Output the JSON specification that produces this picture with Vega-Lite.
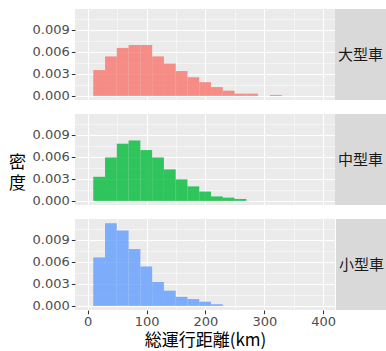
{
  "$schema": "https://vega.github.io/schema/vega-lite/v6.json",
  "background": "white",
  "padding": {"left": 8, "top": 9, "right": 0, "bottom": 0},
  "datasets": {
    "bins": [
      {"type": "大型車", "x0": 9.5, "x1": 29.5, "density": 0.00352},
      {"type": "大型車", "x0": 29.5, "x1": 49.5, "density": 0.00539},
      {"type": "大型車", "x0": 49.5, "x1": 69.5, "density": 0.00655},
      {"type": "大型車", "x0": 69.5, "x1": 89.5, "density": 0.00695},
      {"type": "大型車", "x0": 89.5, "x1": 109.5, "density": 0.00695},
      {"type": "大型車", "x0": 109.5, "x1": 129.5, "density": 0.00539},
      {"type": "大型車", "x0": 129.5, "x1": 149.5, "density": 0.00441},
      {"type": "大型車", "x0": 149.5, "x1": 169.5, "density": 0.00339},
      {"type": "大型車", "x0": 169.5, "x1": 189.5, "density": 0.00254},
      {"type": "大型車", "x0": 189.5, "x1": 209.5, "density": 0.00187},
      {"type": "大型車", "x0": 209.5, "x1": 229.5, "density": 0.0012},
      {"type": "大型車", "x0": 229.5, "x1": 249.5, "density": 0.00071},
      {"type": "大型車", "x0": 249.5, "x1": 269.5, "density": 0.0003},
      {"type": "大型車", "x0": 269.5, "x1": 289.5, "density": 0.0003},
      {"type": "大型車", "x0": 309.5, "x1": 329.5, "density": 0.00013},
      {"type": "中型車", "x0": 9.5, "x1": 29.5, "density": 0.00329},
      {"type": "中型車", "x0": 29.5, "x1": 49.5, "density": 0.00593},
      {"type": "中型車", "x0": 49.5, "x1": 69.5, "density": 0.00781},
      {"type": "中型車", "x0": 69.5, "x1": 89.5, "density": 0.00825},
      {"type": "中型車", "x0": 89.5, "x1": 109.5, "density": 0.00694},
      {"type": "中型車", "x0": 109.5, "x1": 129.5, "density": 0.00593},
      {"type": "中型車", "x0": 129.5, "x1": 149.5, "density": 0.0043},
      {"type": "中型車", "x0": 149.5, "x1": 169.5, "density": 0.00294},
      {"type": "中型車", "x0": 169.5, "x1": 189.5, "density": 0.00198},
      {"type": "中型車", "x0": 189.5, "x1": 209.5, "density": 0.00127},
      {"type": "中型車", "x0": 209.5, "x1": 229.5, "density": 0.00061},
      {"type": "中型車", "x0": 229.5, "x1": 249.5, "density": 0.00044},
      {"type": "中型車", "x0": 249.5, "x1": 269.5, "density": 0.00026},
      {"type": "小型車", "x0": 9.5, "x1": 29.5, "density": 0.00662},
      {"type": "小型車", "x0": 29.5, "x1": 49.5, "density": 0.01129},
      {"type": "小型車", "x0": 49.5, "x1": 69.5, "density": 0.01028},
      {"type": "小型車", "x0": 69.5, "x1": 89.5, "density": 0.00776},
      {"type": "小型車", "x0": 89.5, "x1": 109.5, "density": 0.00538},
      {"type": "小型車", "x0": 109.5, "x1": 129.5, "density": 0.00326},
      {"type": "小型車", "x0": 129.5, "x1": 149.5, "density": 0.00207},
      {"type": "小型車", "x0": 149.5, "x1": 169.5, "density": 0.00123},
      {"type": "小型車", "x0": 169.5, "x1": 189.5, "density": 0.00093},
      {"type": "小型車", "x0": 189.5, "x1": 209.5, "density": 0.00057},
      {"type": "小型車", "x0": 209.5, "x1": 229.5, "density": 0.00022}
    ],
    "strips": [
      {"type": "大型車"},
      {"type": "中型車"},
      {"type": "小型車"}
    ]
  },
  "config": {
    "view": {"fill": "#EBEBEB", "stroke": null},
    "concat": {"spacing": 11},
    "axis": {
      "labelFont": "DejaVu Sans",
      "labelFontSize": 13,
      "labelColor": "#4D4D4D",
      "titleFont": "Noto Sans CJK JP",
      "titleFontSize": 17,
      "titleFontWeight": "normal",
      "titleColor": "#000000",
      "domain": false,
      "tickColor": "#333333",
      "tickSize": 3.7,
      "tickWidth": 1.07,
      "gridColor": "#FFFFFF"
    }
  },
  "vconcat": [
    {
      "spacing": 0,
      "hconcat": [
        {
          "width": 260, "height": 91,
          "data": {"name": "bins"},
          "transform": [{"filter": "datum.type === '大型車'"}],
          "mark": {"type": "rect", "opacity": 0.8},
          "encoding": {
            "x": {"field": "x0", "type": "quantitative", "scale": {"domain": [-21.5, 420], "nice": false, "zero": false},
              "axis": {"title": null, "values": [0, 50, 100, 150, 200, 250, 300, 350, 400], "labels": false, "ticks": false,
                "gridWidth": {"condition": {"test": "datum.value % 100 === 0", "value": 1.07}, "value": 0.53}}},
            "x2": {"field": "x1"},
            "y": {"field": "density", "type": "quantitative", "scale": {"domain": [-0.000565, 0.011865], "nice": false, "zero": false},
              "axis": {"title": null, "values": [0, 0.0015, 0.003, 0.0045, 0.006, 0.0075, 0.009, 0.0105],
                "labelExpr": "round(datum.value * 1000000) % 3000 === 0 ? format(datum.value, '.3f') : ''",
                "tickOpacity": {"condition": {"test": "round(datum.value * 1000000) % 3000 === 0", "value": 1}, "value": 0},
                "gridWidth": {"condition": {"test": "round(datum.value * 1000000) % 3000 === 0", "value": 1.07}, "value": 0.53},
                "labelPadding": 2}},
            "y2": {"datum": 0},
            "color": {"field": "type", "type": "nominal", "legend": null,
              "scale": {"domain": ["大型車", "中型車", "小型車"], "range": ["#F8766D", "#00BA38", "#619CFF"]}}
          }
        },
        {
          "width": 51, "height": 91,
          "view": {"fill": "#D9D9D9", "stroke": null},
          "data": {"name": "strips"},
          "transform": [{"filter": "datum.type === '大型車'"}],
          "mark": {"type": "text", "font": "Noto Sans CJK JP", "fontSize": 15, "color": "#1A1A1A", "baseline": "middle", "align": "center"},
          "encoding": {"text": {"field": "type"}}
        }
      ]
    },
    {
      "spacing": 0,
      "hconcat": [
        {
          "width": 260, "height": 91,
          "data": {"name": "bins"},
          "transform": [{"filter": "datum.type === '中型車'"}],
          "mark": {"type": "rect", "opacity": 0.8},
          "encoding": {
            "x": {"field": "x0", "type": "quantitative", "scale": {"domain": [-21.5, 420], "nice": false, "zero": false},
              "axis": {"title": null, "values": [0, 50, 100, 150, 200, 250, 300, 350, 400], "labels": false, "ticks": false,
                "gridWidth": {"condition": {"test": "datum.value % 100 === 0", "value": 1.07}, "value": 0.53}}},
            "x2": {"field": "x1"},
            "y": {"field": "density", "type": "quantitative", "scale": {"domain": [-0.000565, 0.011865], "nice": false, "zero": false},
              "axis": {"title": ["密", "度"], "titleAngle": 0, "titleAlign": "center", "titleBaseline": "middle", "titleX": -58, "titleY": 48, "titleLineHeight": 21,
                "values": [0, 0.0015, 0.003, 0.0045, 0.006, 0.0075, 0.009, 0.0105],
                "labelExpr": "round(datum.value * 1000000) % 3000 === 0 ? format(datum.value, '.3f') : ''",
                "tickOpacity": {"condition": {"test": "round(datum.value * 1000000) % 3000 === 0", "value": 1}, "value": 0},
                "gridWidth": {"condition": {"test": "round(datum.value * 1000000) % 3000 === 0", "value": 1.07}, "value": 0.53},
                "labelPadding": 2}},
            "y2": {"datum": 0},
            "color": {"field": "type", "type": "nominal", "legend": null,
              "scale": {"domain": ["大型車", "中型車", "小型車"], "range": ["#F8766D", "#00BA38", "#619CFF"]}}
          }
        },
        {
          "width": 51, "height": 91,
          "view": {"fill": "#D9D9D9", "stroke": null},
          "data": {"name": "strips"},
          "transform": [{"filter": "datum.type === '中型車'"}],
          "mark": {"type": "text", "font": "Noto Sans CJK JP", "fontSize": 15, "color": "#1A1A1A", "baseline": "middle", "align": "center"},
          "encoding": {"text": {"field": "type"}}
        }
      ]
    },
    {
      "spacing": 0,
      "hconcat": [
        {
          "width": 260, "height": 91,
          "data": {"name": "bins"},
          "transform": [{"filter": "datum.type === '小型車'"}],
          "mark": {"type": "rect", "opacity": 0.8},
          "encoding": {
            "x": {"field": "x0", "type": "quantitative", "scale": {"domain": [-21.5, 420], "nice": false, "zero": false},
              "axis": {"title": "総運行距離(km)", "values": [0, 50, 100, 150, 200, 250, 300, 350, 400],
                "labelExpr": "datum.value % 100 === 0 ? datum.label : ''",
                "tickOpacity": {"condition": {"test": "datum.value % 100 === 0", "value": 1}, "value": 0},
                "gridWidth": {"condition": {"test": "datum.value % 100 === 0", "value": 1.07}, "value": 0.53},
                "labelPadding": 2, "titlePadding": 4}},
            "x2": {"field": "x1"},
            "y": {"field": "density", "type": "quantitative", "scale": {"domain": [-0.000565, 0.011865], "nice": false, "zero": false},
              "axis": {"title": null, "values": [0, 0.0015, 0.003, 0.0045, 0.006, 0.0075, 0.009, 0.0105],
                "labelExpr": "round(datum.value * 1000000) % 3000 === 0 ? format(datum.value, '.3f') : ''",
                "tickOpacity": {"condition": {"test": "round(datum.value * 1000000) % 3000 === 0", "value": 1}, "value": 0},
                "gridWidth": {"condition": {"test": "round(datum.value * 1000000) % 3000 === 0", "value": 1.07}, "value": 0.53},
                "labelPadding": 2}},
            "y2": {"datum": 0},
            "color": {"field": "type", "type": "nominal", "legend": null,
              "scale": {"domain": ["大型車", "中型車", "小型車"], "range": ["#F8766D", "#00BA38", "#619CFF"]}}
          }
        },
        {
          "width": 51, "height": 91,
          "view": {"fill": "#D9D9D9", "stroke": null},
          "data": {"name": "strips"},
          "transform": [{"filter": "datum.type === '小型車'"}],
          "mark": {"type": "text", "font": "Noto Sans CJK JP", "fontSize": 15, "color": "#1A1A1A", "baseline": "middle", "align": "center"},
          "encoding": {"text": {"field": "type"}}
        }
      ]
    }
  ]
}
